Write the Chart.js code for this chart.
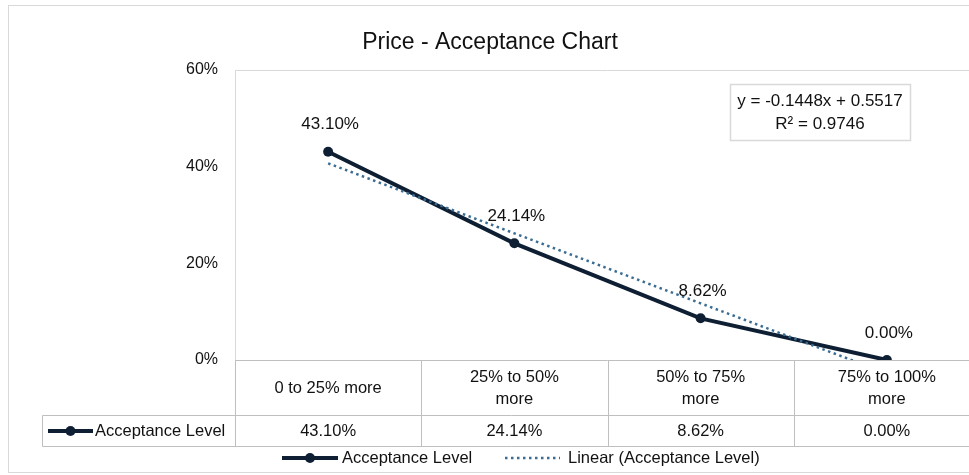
<!DOCTYPE html>
<html>
<head>
<meta charset="utf-8">
<script src="https://cdn.jsdelivr.net/npm/chart.js@4"></script>
<style>
  html, body { margin: 0; padding: 0; background: #fff; overflow: hidden; }
  #wrap { width: 990px; height: 475px; }
</style>
</head>
<body>
<div id="wrap"><canvas id="price-chart" width="990" height="475"></canvas></div>
<script>
const categoryLines = [['0 to 25% more'], ['25% to 50%', 'more'], ['50% to 75%', 'more'], ['75% to 100%', 'more']];
const acceptance = [0.4310, 0.2414, 0.0862, 0.0000];
const trendValues = [0.4069, 0.2621, 0.1173, -0.0275];
const equationLines = ['y = -0.1448x + 0.5517', 'R\u00b2 = 0.9746'];
const seriesName = 'Acceptance Level';
const trendName = 'Linear (Acceptance Level)';

const FONT = '"Liberation Sans", Arial, sans-serif';
const lineColor = '#0e1f33';
const trendColor = '#3b6d93';
const gridGray = '#bfbfbf';
const lightGray = '#d9d9d9';
const textColor = '#111';

const pct = v => (v * 100).toFixed(2) + '%';

function lineMarker(ctx, x1, x2, y) {
  ctx.save();
  ctx.strokeStyle = lineColor;
  ctx.lineWidth = 4;
  ctx.beginPath();
  ctx.moveTo(x1, y);
  ctx.lineTo(x2, y);
  ctx.stroke();
  ctx.fillStyle = lineColor;
  ctx.beginPath();
  ctx.arc((x1 + x2) / 2, y, 5, 0, Math.PI * 2);
  ctx.fill();
  ctx.restore();
}

const excelExtras = {
  id: 'excelExtras',
  beforeDraw(chart) {
    const {ctx, chartArea: a} = chart;
    ctx.save();
    // outer chart border
    ctx.strokeStyle = lightGray;
    ctx.lineWidth = 1;
    ctx.strokeRect(8.5, 5.5, chart.width + 50, 467);
    // plot area top edge
    ctx.beginPath();
    ctx.moveTo(a.left, Math.round(a.top) + 0.5);
    ctx.lineTo(a.right, Math.round(a.top) + 0.5);
    ctx.stroke();
    ctx.restore();
  },
  afterDatasetsDraw(chart) {
    const {ctx} = chart;
    const meta = chart.getDatasetMeta(0);
    ctx.save();
    ctx.font = '17px ' + FONT;
    ctx.fillStyle = textColor;
    ctx.textAlign = 'center';
    ctx.textBaseline = 'middle';
    meta.data.forEach((pt, i) => {
      ctx.fillText(pct(acceptance[i]), pt.x + 2, pt.y - 27);
    });
    ctx.restore();
  },
  afterDraw(chart) {
    const {ctx, chartArea: a, scales: {x}} = chart;
    const step = x.getPixelForValue(1) - x.getPixelForValue(0);
    const top = Math.round(a.bottom) + 0.5;
    const mid = 415.5;
    const bot = 446.5;
    const labelLeft = 42.5;

    ctx.save();
    ctx.strokeStyle = gridGray;
    ctx.lineWidth = 1;
    ctx.beginPath();
    ctx.moveTo(a.left, top); ctx.lineTo(a.right, top);
    ctx.moveTo(labelLeft, mid); ctx.lineTo(a.right, mid);
    ctx.moveTo(labelLeft, bot); ctx.lineTo(a.right, bot);
    ctx.moveTo(labelLeft, mid); ctx.lineTo(labelLeft, bot);
    for (let i = 0; i <= categoryLines.length; i++) {
      const bx = Math.round(x.getPixelForValue(i) - step / 2) + 0.5;
      ctx.moveTo(bx, top); ctx.lineTo(bx, bot);
    }
    ctx.stroke();

    // header and value cells
    ctx.font = '16.5px ' + FONT;
    ctx.fillStyle = textColor;
    ctx.textAlign = 'center';
    ctx.textBaseline = 'middle';
    categoryLines.forEach((lines, i) => {
      const cx = x.getPixelForValue(i);
      const startY = (top + mid) / 2 - (lines.length - 1) * 11;
      lines.forEach((t, k) => ctx.fillText(t, cx, startY + k * 22));
      ctx.fillText(pct(acceptance[i]), cx, (mid + bot) / 2);
    });

    // series key in table
    lineMarker(ctx, 48, 93, (mid + bot) / 2);
    ctx.textAlign = 'left';
    ctx.fillText(seriesName, 95, (mid + bot) / 2);

    // bottom legend
    const ly = 458;
    lineMarker(ctx, 282, 338, ly);
    ctx.fillText(seriesName, 342, ly);
    ctx.strokeStyle = trendColor;
    ctx.lineWidth = 2.5;
    ctx.setLineDash([2.5, 3.5]);
    ctx.beginPath();
    ctx.moveTo(505, ly); ctx.lineTo(560, ly);
    ctx.stroke();
    ctx.setLineDash([]);
    ctx.fillText(trendName, 568, ly);

    // trendline equation box
    ctx.strokeStyle = lightGray;
    ctx.lineWidth = 1.5;
    ctx.strokeRect(730.5, 84.5, 180, 56);
    ctx.font = '17px ' + FONT;
    ctx.textAlign = 'center';
    ctx.fillText(equationLines[0], 820, 101);
    ctx.fillText(equationLines[1], 820, 124);
    ctx.restore();
  }
};

const priceChart = new Chart(document.getElementById('price-chart'), {
  type: 'line',
  data: {
    labels: categoryLines,
    datasets: [
      {
        label: seriesName,
        data: acceptance,
        borderColor: lineColor,
        backgroundColor: lineColor,
        borderWidth: 4,
        pointRadius: 5,
        pointBackgroundColor: lineColor,
        pointBorderWidth: 0,
        tension: 0,
        order: 1,
      },
      {
        label: trendName,
        data: trendValues,
        borderColor: trendColor,
        borderWidth: 2.5,
        borderDash: [2.5, 3.5],
        borderCapStyle: 'butt',
        pointRadius: 0,
        tension: 0,
        clip: 0,
        order: 0,
      }
    ]
  },
  options: {
    responsive: false,
    animation: false,
    layout: {
      padding: { left: 0, right: 10, top: 0, bottom: 115 }
    },
    scales: {
      x: {
        display: false,
        offset: true,
      },
      y: {
        min: 0,
        max: 0.6,
        afterFit: (scale) => { scale.width = 235; },
        grid: { display: false, drawTicks: false },
        border: { display: true, color: lightGray, width: 1 },
        ticks: {
          stepSize: 0.2,
          padding: 17,
          color: textColor,
          font: { family: FONT, size: 16 },
          callback: (v) => Math.round(v * 100) + '%',
        }
      }
    },
    plugins: {
      legend: { display: false },
      tooltip: { enabled: false },
      title: {
        display: true,
        text: 'Price - Acceptance Chart',
        color: textColor,
        font: { family: FONT, size: 23, weight: 'normal' },
        padding: { top: 29, bottom: 13.4 }
      }
    }
  },
  plugins: [excelExtras]
});
</script>
</body>
</html>
